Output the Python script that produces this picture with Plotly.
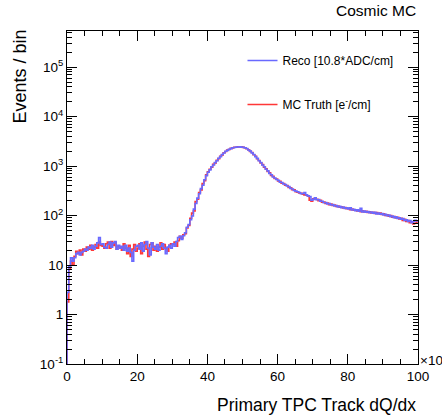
import numpy as np
import plotly.graph_objects as go

# Histogram: 200 bins from 0 to 100 (x10^3)
x_min, x_max, n_bins = 0.0, 100.0, 200

truth_counts = [
    1.8, 8.5, 12, 10, 15, 19, 17, 20, 16, 21,
    19, 23, 21, 25, 20, 23, 26, 22, 29, 25,
    24, 22, 27, 29, 22, 30, 25, 28, 21, 24,
    23, 20, 27, 22, 17, 25, 15, 21, 26, 19,
    22, 27, 17, 24, 29, 21, 15, 26, 28, 20,
    24, 19, 23, 28, 21, 26, 22, 19, 25, 27,
    26, 29, 24, 31, 38, 35, 41, 43, 56, 63,
    88, 112, 124, 192, 214, 292, 328, 445, 508, 665,
    770, 865, 948, 1085, 1155, 1305, 1415, 1575, 1685, 1865,
    1975, 2100, 2170, 2275, 2320, 2395, 2400, 2445, 2430, 2440,
    2390, 2350, 2240, 2145, 1985, 1875, 1695, 1575, 1405, 1300,
    1160, 1070, 945, 880, 780, 730, 650, 620, 560, 550,
    500, 490, 450, 445, 410, 405, 372, 365, 335, 330,
    305, 298, 285, 282, 270, 262, 258, 245, 205, 195,
    218, 222, 212, 200, 204, 186, 188, 176, 178, 166,
    170, 160, 163, 152, 156, 147, 150, 142, 146, 137,
    140, 132, 136, 128, 131, 124, 128, 120, 125, 118,
    122, 115, 119, 113, 117, 110, 115, 109, 112, 105,
    108, 101, 104, 97, 100, 93, 96, 89, 92, 85,
    88, 80, 84, 76, 79, 72, 75, 68, 70, 74,
]

reco_counts = [
    2.8, 9.5, 14, 12, 14, 17, 18, 16, 18, 19,
    21, 20, 23, 22, 25, 21, 24, 28, 36, 26,
    27, 23, 22, 26, 29, 23, 28, 30, 21, 25,
    22, 24, 20, 25, 19, 22, 18, 12, 20, 24,
    25, 21, 28, 19, 26, 30, 22, 16, 28, 23,
    21, 26, 20, 24, 27, 22, 17, 23, 25, 22,
    27, 24, 30, 36, 38, 33, 39, 45, 58, 66,
    82, 98, 135, 175, 225, 275, 350, 410, 530, 640,
    750, 840, 970, 1050, 1180, 1280, 1440, 1550, 1710, 1840,
    1990, 2080, 2190, 2250, 2340, 2370, 2420, 2425, 2445, 2420,
    2410, 2330, 2260, 2120, 2010, 1850, 1720, 1550, 1430, 1280,
    1180, 1050, 970, 860, 800, 710, 670, 600, 575, 535,
    515, 475, 465, 435, 425, 395, 385, 355, 345, 320,
    312, 302, 292, 278, 280, 292, 262, 250, 242, 205,
    212, 228, 208, 210, 196, 194, 182, 184, 172, 174,
    164, 166, 157, 160, 150, 153, 144, 148, 139, 143,
    136, 143, 130, 134, 126, 130, 122, 140, 118, 123,
    117, 121, 114, 118, 111, 116, 108, 113, 106, 110,
    103, 106, 99, 102, 95, 98, 91, 94, 87, 90,
    84, 87, 80, 82, 76, 79, 72, 76, 80, 78,
]

series_names = ["MC Truth [e<sup>-</sup>/cm]", "Reco [10.8*ADC/cm]"]
x_tick_vals = [0, 20, 40, 60, 80, 100]
y_tick_exps = [-1, 0, 1, 2, 3, 4, 5]
y_tick_text = ["10<sup>-1</sup>", "1", "10", "10<sup>2</sup>", "10<sup>3</sup>",
               "10<sup>4</sup>", "10<sup>5</sup>"]
y_log_range = [-1, 5.73]

edges = np.linspace(x_min, x_max, n_bins + 1)
y_floor = 10 ** y_log_range[0]


def step_xy(counts):
    xs = [edges[0]] + list(edges[:-1]) + [edges[-1]]
    ys = [y_floor] + list(counts) + [counts[-1]]
    return xs, ys


fig = go.Figure()
colors = ["rgb(255,55,55)", "rgb(105,105,255)"]
ranks = [2, 1]
for name, counts, col, grp, rk in zip(series_names, [truth_counts, reco_counts], colors, ["t", "r"], ranks):
    xs, ys = step_xy(counts)
    fig.add_trace(go.Scatter(x=xs, y=ys, mode="lines", name=name,
                             line=dict(color=col, width=1.6, shape="hv"),
                             legendgroup=grp, legendrank=rk))

minor_y = [m * 10 ** e for e in range(-1, 6) for m in range(2, 10)]

font = "Liberation Sans, Arial, sans-serif"
fig.update_layout(
    width=442, height=416,
    margin=dict(l=67, r=24, t=31, b=52),
    paper_bgcolor="white", plot_bgcolor="white",
    font=dict(family=font, color="black"),
    showlegend=True,
    legend=dict(x=0.50, y=0.955, xanchor="left", yanchor="top",
                traceorder="grouped", tracegroupgap=25,
                font=dict(size=12, family=font), bgcolor="rgba(0,0,0,0)",
                itemwidth=30),
    xaxis=dict(range=[x_min, x_max], tickvals=x_tick_vals,
               ticks="inside", ticklen=10, tickwidth=1, tickcolor="black",
               showline=True, linecolor="black", linewidth=1, mirror="ticks",
               showgrid=False, zeroline=False,
               tickfont=dict(size=13.5, family=font),
               minor=dict(ticks="inside", ticklen=5, dtick=5, tickcolor="black", showgrid=False)),
    yaxis=dict(type="log", range=y_log_range,
               tickvals=[10 ** e for e in y_tick_exps], ticktext=y_tick_text,
               ticks="inside", ticklen=10, tickwidth=1, tickcolor="black",
               showline=True, linecolor="black", linewidth=1, mirror="ticks",
               showgrid=False, zeroline=False,
               tickfont=dict(size=13.5, family=font),
               minor=dict(ticks="inside", ticklen=5, tickvals=minor_y, tickcolor="black", showgrid=False)),
)

fig.add_annotation(text="Cosmic MC", xref="paper", yref="paper", x=1, y=1.03,
                   xanchor="right", yanchor="bottom", showarrow=False,
                   font=dict(size=15.5, family=font))
fig.add_annotation(text="Events / bin", xref="paper", yref="paper", x=-0.135, y=1.009,
                   xanchor="center", yanchor="top", textangle=-90, showarrow=False,
                   font=dict(size=18, family=font))
fig.add_annotation(text="Primary TPC Track dQ/dx", xref="paper", yref="paper", x=1, y=-0.123,
                   xanchor="right", yanchor="middle", showarrow=False,
                   font=dict(size=17.5, family=font))
fig.add_annotation(text="×10<sup>3</sup>", xref="paper", yref="paper", x=1, y=0.015,
                   xanchor="left", yanchor="middle", showarrow=False,
                   font=dict(size=13.5, family=font))

fig.write_html("out.html")
